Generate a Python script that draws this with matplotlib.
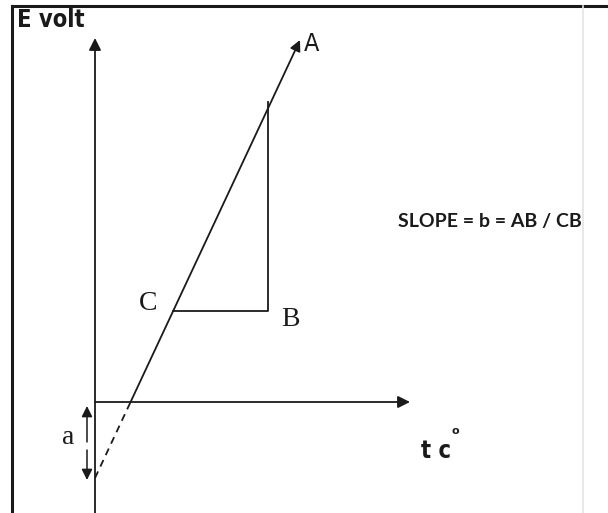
import matplotlib.pyplot as plt

# --- diagram geometry (pixel space of the reference, y grows downward) ---
y_axis_x = 95
y_axis_span = [513, 38]          # bottom, arrow tip
x_axis_y = 402
x_axis_span = [95, 410]          # origin, arrow tip
line_start = [95, 478]           # intercept on E axis
line_end = [300, 40]             # point A
point_C = [173, 311]
point_B = [268, 311]
point_top = [268, 102]           # where vertical from B meets the line
a_arrow_x = 87
a_arrow_span = [406, 480]

labels = {
    "A": (304, 44),
    "C": (139, 304),
    "B": (281, 319),
    "a": (62, 438),
}

W, H = 608, 513
fig = plt.figure(figsize=(W / 100, H / 100), dpi=100)
ax = fig.add_axes([0, 0, 1, 1])
ax.set_xlim(0, W)
ax.set_ylim(H, 0)
ax.axis("off")

ink = "#1a1a1a"
narrow = ["DejaVu Sans"]

# frame of the scanned page
ax.plot([12, 12], [6, H], color=ink, lw=2.2)
ax.plot([12, W], [6, 6], color=ink, lw=2.2)
ax.plot([583, 583], [6, H], color="#e4e4e4", lw=1.2)

# axes with arrows
ax.annotate("", xy=(y_axis_x, y_axis_span[1]), xytext=(y_axis_x, y_axis_span[0]),
            arrowprops=dict(arrowstyle="-|>", color=ink, lw=1.3,
                            mutation_scale=18, shrinkA=0, shrinkB=0))
ax.annotate("", xy=(x_axis_span[1], x_axis_y), xytext=(x_axis_span[0], x_axis_y),
            arrowprops=dict(arrowstyle="-|>", color=ink, lw=1.3,
                            mutation_scale=18, shrinkA=0, shrinkB=0))

# straight line: dashed below the t axis, solid above
slope = (line_end[0] - line_start[0]) / (line_end[1] - line_start[1])
x_cross = line_start[0] + slope * (x_axis_y - line_start[1])
ax.plot([line_start[0], x_cross], [line_start[1], x_axis_y],
        color=ink, lw=1.3, ls=(0, (4, 3)))
ax.annotate("", xy=tuple(line_end), xytext=(x_cross, x_axis_y),
            arrowprops=dict(arrowstyle="-|>", color=ink, lw=1.3,
                            mutation_scale=16, shrinkA=0, shrinkB=0))

# slope triangle
ax.plot([point_C[0], point_B[0], point_top[0]],
        [point_C[1], point_B[1], point_top[1]], color=ink, lw=1.3)

# intercept "a" double arrow (broken around the label)
mid = sum(a_arrow_span) / 2
ax.annotate("", xy=(a_arrow_x, a_arrow_span[0]), xytext=(a_arrow_x, mid - 1),
            arrowprops=dict(arrowstyle="-|>", color=ink, lw=1.1,
                            mutation_scale=16, shrinkA=0, shrinkB=0))
ax.annotate("", xy=(a_arrow_x, a_arrow_span[1]), xytext=(a_arrow_x, mid + 7),
            arrowprops=dict(arrowstyle="-|>", color=ink, lw=1.1,
                            mutation_scale=16, shrinkA=0, shrinkB=0))

serif = ["Liberation Serif", "DejaVu Serif"]
for txt, (x, y) in labels.items():
    if txt == "A":
        ax.text(x, y, txt, fontsize=18, family=narrow, stretch="condensed",
                color=ink, ha="left", va="center")
    else:
        ax.text(x, y, txt, fontsize=20, family=serif, color=ink,
                ha="left", va="center")

ax.text(17, 20, "E volt", fontsize=17, fontweight="bold", color=ink,
        family=narrow, stretch="condensed", ha="left", va="center")
ax.text(398, 221, "SLOPE = b = AB / CB", fontsize=14, fontweight="bold",
        color=ink, family=["Lato", "DejaVu Sans"], ha="left", va="center")
ax.text(421, 451, "t c", fontsize=17, fontweight="bold", color=ink,
        family=narrow, stretch="condensed", ha="left", va="center")
ax.text(451, 431, "o", fontsize=8, fontweight="bold", color=ink,
        family=narrow, ha="left", va="center")

fig.savefig("out.png", dpi=100, facecolor="white")
